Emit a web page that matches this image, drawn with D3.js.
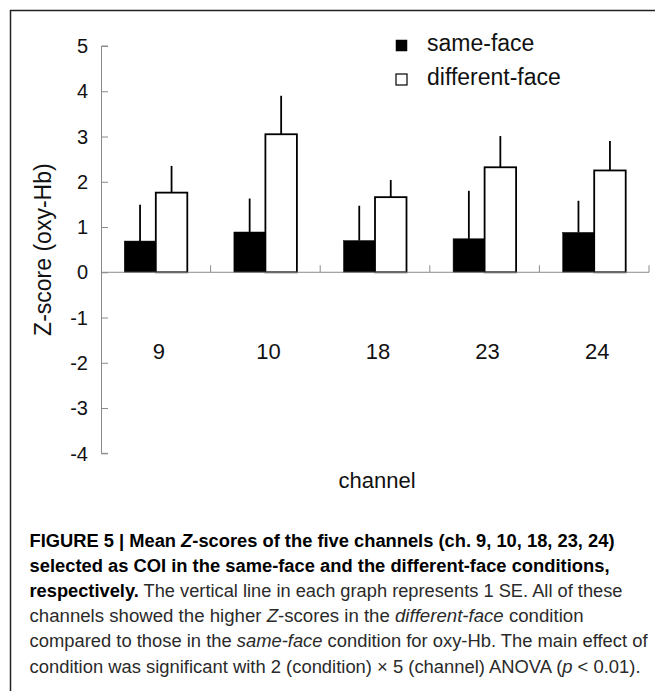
<!DOCTYPE html>
<html>
<head>
<meta charset="utf-8">
<script src="https://cdn.jsdelivr.net/npm/d3@7"></script>
<style>
  body { margin: 0; background: #fff; }
  svg { display: block; }
</style>
</head>
<body>
<svg id="fig"></svg>
<script>
// values
var channels = ["9", "10", "18", "23", "24"];
var sameFace = [0.69, 0.89, 0.70, 0.74, 0.88];
var sameFaceSE = [0.80, 0.74, 0.77, 1.06, 0.70];
var diffFace = [1.76, 3.05, 1.66, 2.32, 2.25];
var diffFaceSE = [0.59, 0.85, 0.38, 0.69, 0.65];
var conditions = ["same-face", "different-face"];
var yTicks = [-4, -3, -2, -1, 0, 1, 2, 3, 4, 5];

var width = 655,
  height = 691;

var svg = d3.select("#fig")
  .attr("width", width)
  .attr("height", height);

// frame (cut off at right and bottom like the scan)
svg.append("rect")
  .attr("x", 10.5).attr("y", 10.5)
  .attr("width", 700).attr("height", 700)
  .attr("fill", "none")
  .attr("stroke", "#222")
  .attr("stroke-width", 1.5);

var font = "'Liberation Sans', Arial, sans-serif";
var axisGrey = "#8a8a8a";

var y = d3.scaleLinear().domain([-4, 5]).range([453.3, 46]);
var x = d3.scaleBand().domain(channels).range([101, 649]).paddingInner(0).paddingOuter(0);
var bw = x.bandwidth();
var xs = d3.scaleBand().domain(conditions).range([bw / 2 - 31.5, bw / 2 + 31.5]);

var rows = channels.map(function(c, i) {
  return {
    ch: c,
    vals: [
      { cond: "same-face", v: sameFace[i], se: sameFaceSE[i] },
      { cond: "different-face", v: diffFace[i], se: diffFaceSE[i] }
    ]
  };
});

// y axis
var yAxis = svg.append("g")
  .attr("transform", "translate(101,0)")
  .call(d3.axisRight(y).tickValues(yTicks).tickSize(7).tickFormat(""));
yAxis.select(".domain").attr("stroke", axisGrey).attr("d", "M7," + y(5) + "H0.5V" + y(-4) + "H7");
yAxis.selectAll(".tick line").attr("stroke", axisGrey);

svg.selectAll(".ylab").data(yTicks)
  .enter().append("text")
  .attr("class", "ylab")
  .attr("x", 88)
  .attr("y", function(d) { return y(d); })
  .attr("dy", "0.36em")
  .attr("text-anchor", "end")
  .attr("font-family", font)
  .attr("font-size", 20)
  .attr("fill", "#111")
  .text(function(d) { return d; });

svg.append("text")
  .attr("transform", "translate(51," + ((y(5) + y(-4)) / 2) + ") rotate(-90)")
  .attr("text-anchor", "middle")
  .attr("font-family", font)
  .attr("font-size", 23)
  .attr("fill", "#111")
  .text("Z-score (oxy-Hb)");

// bars
var groups = svg.selectAll(".grp").data(rows)
  .enter().append("g")
  .attr("class", "grp")
  .attr("transform", function(d) { return "translate(" + x(d.ch) + ",0)"; });

// error lines first so the bar outline sits on top
groups.selectAll(".err").data(function(d) { return d.vals; })
  .enter().append("line")
  .attr("class", "err")
  .attr("x1", function(d) { return xs(d.cond) + xs.bandwidth() / 2; })
  .attr("x2", function(d) { return xs(d.cond) + xs.bandwidth() / 2; })
  .attr("y1", function(d) { return y(d.v); })
  .attr("y2", function(d) { return y(d.v + d.se); })
  .attr("stroke", "#000")
  .attr("stroke-width", 1.8);

groups.selectAll(".bar").data(function(d) { return d.vals; })
  .enter().append("rect")
  .attr("class", "bar")
  .attr("x", function(d) { return xs(d.cond); })
  .attr("y", function(d) { return y(d.v); })
  .attr("width", xs.bandwidth())
  .attr("height", function(d) { return y(0) - y(d.v); })
  .attr("fill", function(d) { return d.cond === "same-face" ? "#000" : "#fff"; })
  .attr("stroke", "#000")
  .attr("stroke-width", function(d) { return d.cond === "same-face" ? 0.5 : 1.8; });

// zero line with category separators
var xAxis = svg.append("g")
  .attr("transform", "translate(0," + y(0) + ")");
xAxis.append("line")
  .attr("x1", 101).attr("x2", 649)
  .attr("stroke", axisGrey);
var seps = channels.map(function(c) { return x(c) + bw; });
xAxis.selectAll(".sep").data(seps)
  .enter().append("line")
  .attr("class", "sep")
  .attr("x1", function(d) { return d; })
  .attr("x2", function(d) { return d; })
  .attr("y1", 0).attr("y2", -7)
  .attr("stroke", axisGrey);

svg.selectAll(".clab").data(channels)
  .enter().append("text")
  .attr("class", "clab")
  .attr("x", function(d) { return x(d) + bw / 2 + 3; })
  .attr("y", 359)
  .attr("text-anchor", "middle")
  .attr("font-family", font)
  .attr("font-size", 22)
  .attr("fill", "#111")
  .text(function(d) { return d; });

svg.append("text")
  .attr("x", 377)
  .attr("y", 488)
  .attr("text-anchor", "middle")
  .attr("font-family", font)
  .attr("font-size", 22)
  .attr("fill", "#111")
  .text("channel");

// legend
var leg = svg.selectAll(".leg").data(conditions)
  .enter().append("g")
  .attr("class", "leg")
  .attr("transform", function(d, i) { return "translate(396," + (40 + i * 34) + ")"; });
leg.append("rect")
  .attr("width", 11).attr("height", 11)
  .attr("fill", function(d, i) { return i === 0 ? "#000" : "#fff"; })
  .attr("stroke", "#000")
  .attr("stroke-width", function(d, i) { return i === 0 ? 0.5 : 1.2; });
leg.append("text")
  .attr("x", 31)
  .attr("y", 11)
  .attr("font-family", font)
  .attr("font-size", 23)
  .attr("fill", "#111")
  .text(function(d) { return d; });

// caption
var capFont = "'Liberation Sans', Arial, sans-serif";
var capLines = [
  { w: 585, parts: [["FIGURE 5 | Mean ", "b"], ["Z", "bi"], ["-scores of the five channels (ch. 9, 10, 18, 23, 24)", "b"]] },
  { w: 580, parts: [["selected as COI in the same-face and the different-face conditions,", "b"]] },
  { w: 593, parts: [["respectively.", "b"], [" The vertical line in each graph represents 1 SE. All of these", "n"]] },
  { w: 554, parts: [["channels showed the higher ", "n"], ["Z", "i"], ["-scores in the ", "n"], ["different-face", "i"], [" condition", "n"]] },
  { w: 618, parts: [["compared to those in the ", "n"], ["same-face", "i"], [" condition for oxy-Hb. The main effect of", "n"]] },
  { w: 611, parts: [["condition was significant with 2 (condition) \u00d7 5 (channel) ANOVA (", "n"], ["p", "i"], [" < 0.01).", "n"]] }
];

var cap = svg.selectAll(".cap").data(capLines)
  .enter().append("text")
  .attr("class", "cap")
  .attr("x", 29.5)
  .attr("y", function(d, i) { return 547 + i * 25.1; })
  .attr("font-family", capFont)
  .attr("font-size", 17.5)
  .attr("textLength", function(d) { return d.w; })
  .attr("lengthAdjust", "spacingAndGlyphs");

cap.selectAll("tspan").data(function(d) { return d.parts; })
  .enter().append("tspan")
  .attr("font-weight", function(d) { return d[1].indexOf("b") >= 0 ? "bold" : "normal"; })
  .attr("font-style", function(d) { return d[1].indexOf("i") >= 0 ? "italic" : "normal"; })
  .attr("fill", function(d) { return d[1].indexOf("b") >= 0 ? "#000" : "#2a2a2a"; })
  .text(function(d) { return d[0]; });
</script>
</body>
</html>
